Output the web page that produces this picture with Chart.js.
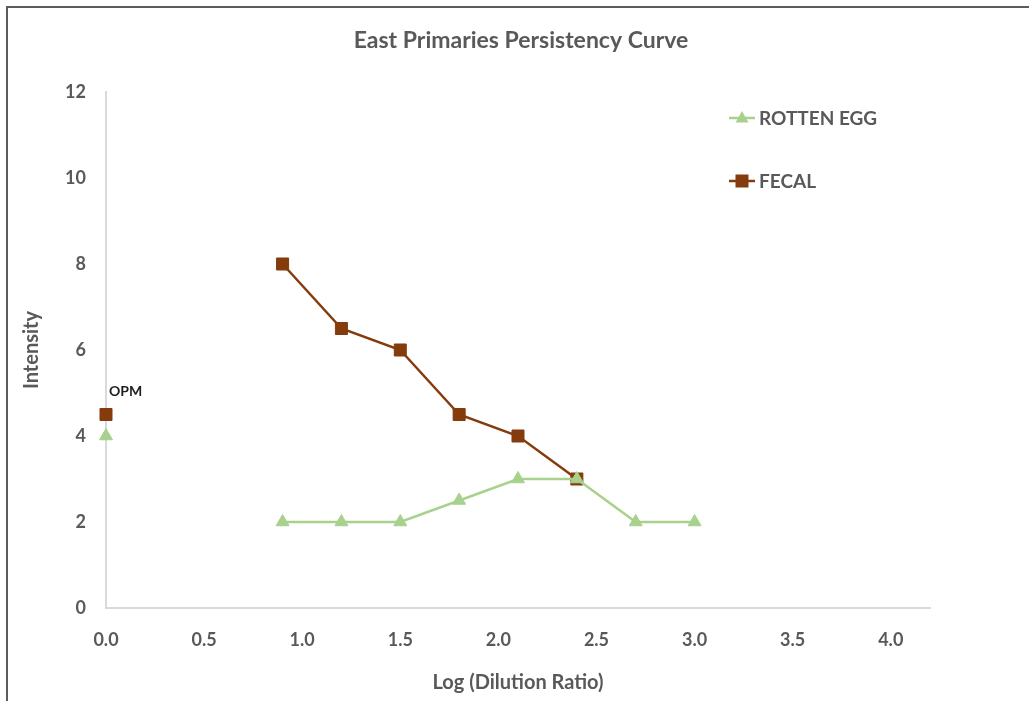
<!DOCTYPE html>
<html>
<head>
<meta charset="utf-8">
<script src="https://cdn.jsdelivr.net/npm/chart.js@4.4.1/dist/chart.umd.min.js"></script>
<style>
  html, body { margin: 0; padding: 0; background: #ffffff; overflow: hidden; }
  #wrap { position: relative; width: 1029px; height: 701px; }
  #frame { position: absolute; left: 6px; top: 6px; width: 1100px; height: 800px;
           border-left: 2px solid #5c5c5c; border-top: 2px solid #5c5c5c; pointer-events: none; }
</style>
</head>
<body>
<div id="wrap">
  <canvas id="c" width="1029" height="701"></canvas>
  <div id="frame"></div>
</div>
<script>
// ---- data ----
const chartTitle = 'East Primaries Persistency Curve';
const xAxisTitle = 'Log (Dilution Ratio)';
const yAxisTitle = 'Intensity';
const seriesNames = ['ROTTEN EGG', 'FECAL'];
const rottenEggX = [0, 0.9, 1.2, 1.5, 1.8, 2.1, 2.4, 2.7, 3.0];
const rottenEggY = [4, 2, 2, 2, 2.5, 3, 3, 2, 2];
const fecalX = [0, 0.9, 1.2, 1.5, 1.8, 2.1, 2.4];
const fecalY = [4.5, 8, 6.5, 6, 4.5, 4, 3];
const pointAnnotation = 'OPM';

const GREEN = '#a9d18e';
const BROWN = '#843c0c';
const TEXT = '#595959';
const FONT = 'Lato, "Open Sans", sans-serif';

const toPoints = (xs, ys) => xs.map((x, i) => ({ x: x, y: ys[i] }));
// the first (OPM) point is not joined to the rest of the curve
const skipFirst = ctx => ctx.p0DataIndex === 0 ? 'rgba(0,0,0,0)' : undefined;

const titlePlugin = {
  id: 'chartTitle',
  afterDraw(chart) {
    const ctx = chart.ctx;
    ctx.save();
    ctx.fillStyle = TEXT;
    ctx.font = 'bold 23px ' + FONT;
    ctx.textAlign = 'center';
    ctx.textBaseline = 'middle';
    ctx.fillText(chartTitle, 521, 41);
    ctx.restore();
  }
};

const legendPlugin = {
  id: 'customLegend',
  afterDraw(chart) {
    const ctx = chart.ctx;
    const items = chart.data.datasets;
    const x0 = 729, x1 = 755, tx = 759;
    const ys = [118, 181];
    ctx.save();
    items.forEach((ds, i) => {
      const y = ys[i];
      ctx.strokeStyle = ds.borderColor;
      ctx.lineWidth = 2.5;
      ctx.beginPath(); ctx.moveTo(x0, y); ctx.lineTo(x1, y); ctx.stroke();
      ctx.fillStyle = ds.pointBackgroundColor;
      const cx = (x0 + x1) / 2;
      if (ds.pointStyle === 'triangle') {
        ctx.beginPath();
        ctx.moveTo(cx, y - 7); ctx.lineTo(cx + 6.5, y + 4.5); ctx.lineTo(cx - 6.5, y + 4.5);
        ctx.closePath(); ctx.fill();
      } else {
        ctx.fillRect(cx - 6.5, y - 6.5, 13, 13);
      }
      ctx.fillStyle = TEXT;
      ctx.font = 'bold 19px ' + FONT;
      ctx.textAlign = 'left';
      ctx.textBaseline = 'middle';
      ctx.fillText(ds.label, tx, y + 1);
    });
    ctx.restore();
  }
};

const annotationPlugin = {
  id: 'opmLabel',
  afterDatasetsDraw(chart) {
    const meta = chart.getDatasetMeta(1);
    const pt = meta.data[0];
    if (!pt) return;
    const ctx = chart.ctx;
    ctx.save();
    ctx.fillStyle = '#1e1e1e';
    ctx.font = 'bold 14px ' + FONT;
    ctx.textAlign = 'left';
    ctx.textBaseline = 'middle';
    ctx.fillText(pointAnnotation, pt.x + 3, pt.y - 23);
    ctx.restore();
  }
};

new Chart(document.getElementById('c'), {
  type: 'line',
  data: {
    datasets: [
      {
        label: seriesNames[0],
        data: toPoints(rottenEggX, rottenEggY),
        borderColor: GREEN,
        backgroundColor: GREEN,
        pointBackgroundColor: GREEN,
        pointBorderColor: GREEN,
        pointStyle: 'triangle',
        pointRadius: 7.5,
        pointBorderWidth: 1,
        borderWidth: 2.5,
        tension: 0,
        clip: false,
        segment: { borderColor: skipFirst }
      },
      {
        label: seriesNames[1],
        data: toPoints(fecalX, fecalY),
        borderColor: BROWN,
        backgroundColor: BROWN,
        pointBackgroundColor: BROWN,
        pointBorderColor: BROWN,
        pointStyle: 'rect',
        pointRadius: 8.5,
        pointBorderWidth: 1,
        borderWidth: 2.5,
        tension: 0,
        clip: false,
        segment: { borderColor: skipFirst }
      }
    ]
  },
  options: {
    responsive: false,
    animation: false,
    layout: { padding: { left: 10, right: 99, top: 92, bottom: 4 } },
    plugins: {
      legend: { display: false },
      tooltip: { enabled: false },
      title: { display: false }
    },
    scales: {
      x: {
        type: 'linear',
        min: 0,
        max: 4.2,
        grid: { display: false, drawTicks: false },
        border: { display: true, color: '#d9d9d9', width: 2 },
        ticks: {
          stepSize: 0.5,
          includeBounds: false,
          color: TEXT,
          padding: 21,
          font: { family: FONT, size: 18, weight: 'bold' },
          callback: v => Number(v).toFixed(1)
        },
        title: {
          display: true,
          text: xAxisTitle,
          color: TEXT,
          font: { family: FONT, size: 20, weight: 'bold' },
          padding: { top: 4, bottom: 2 }
        },
        afterFit: s => { s.height = 701 - 4 - 608; }
      },
      y: {
        min: 0,
        max: 12,
        grid: { display: false, drawTicks: false },
        border: { display: true, color: '#d9d9d9', width: 2 },
        ticks: {
          stepSize: 2,
          color: TEXT,
          padding: 20,
          font: { family: FONT, size: 18, weight: 'bold' }
        },
        title: {
          display: true,
          text: yAxisTitle,
          color: TEXT,
          font: { family: FONT, size: 20, weight: 'bold' },
          padding: { top: 10, bottom: 4 }
        },
        afterFit: s => { s.width = 106 - 10; }
      }
    }
  },
  plugins: [titlePlugin, legendPlugin, annotationPlugin]
});
</script>
</body>
</html>
